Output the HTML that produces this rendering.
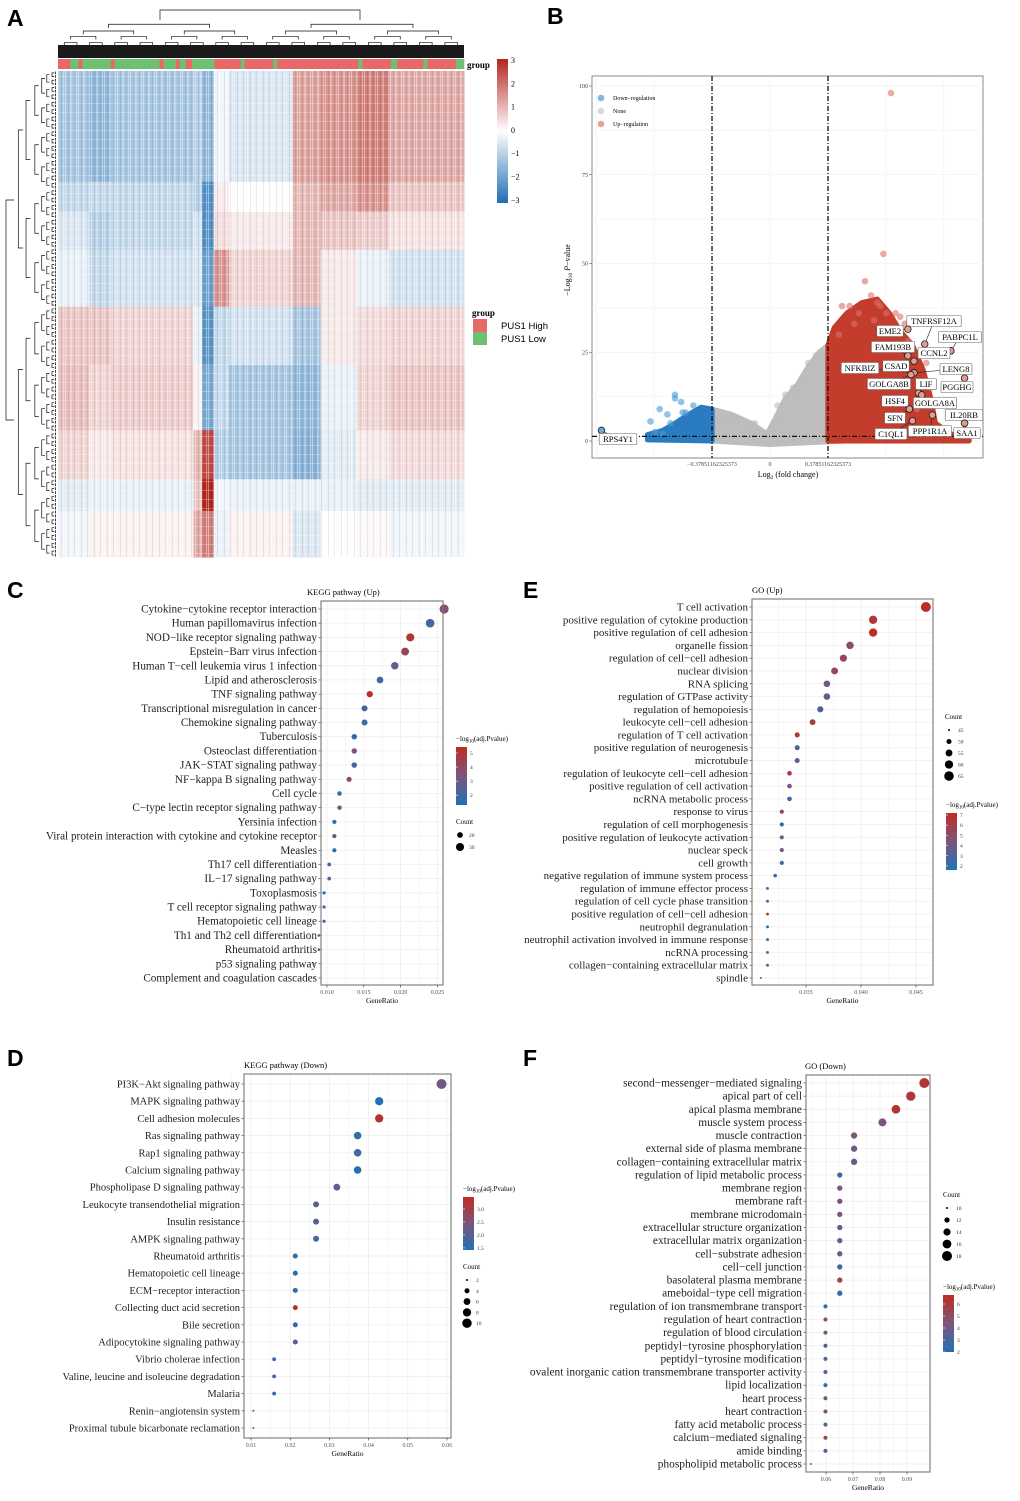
<!DOCTYPE html>
<html><head><meta charset="utf-8"><style>
html,body{margin:0;padding:0;background:#fff;}
svg{display:block;font-family:"Liberation Serif",serif;}
.pl{font-family:"Liberation Sans",sans-serif;font-weight:bold;font-size:23px;}
</style></head><body>
<svg id="fig" width="1020" height="1501" viewBox="0 0 1020 1501" xmlns="http://www.w3.org/2000/svg">
<defs>
<pattern id="tex" width="13" height="9" patternUnits="userSpaceOnUse">
<rect x="0" y="0" width="1" height="9" fill="#fff" opacity="0.4"/>
<rect x="3" y="0" width="1" height="9" fill="#000" opacity="0.08"/>
<rect x="5" y="0" width="2" height="9" fill="#fff" opacity="0.3"/>
<rect x="9" y="0" width="1" height="9" fill="#000" opacity="0.07"/>
<rect x="11" y="0" width="1" height="9" fill="#fff" opacity="0.35"/>
<rect x="0" y="4" width="13" height="1" fill="#fff" opacity="0.25"/>
</pattern>
<linearGradient id="cbar" x1="0" y1="1" x2="0" y2="0">
<stop offset="0" stop-color="#2171b5"/><stop offset="0.5" stop-color="#7d557d"/><stop offset="1" stop-color="#be2d23"/></linearGradient>
<linearGradient id="hbar" x1="0" y1="1" x2="0" y2="0">
<stop offset="0" stop-color="#1f6fb4"/><stop offset="0.5" stop-color="#ffffff"/><stop offset="1" stop-color="#b2261e"/></linearGradient>
</defs>
<text class="pl" x="7" y="26">A</text>
<text class="pl" x="547" y="24">B</text>
<text class="pl" x="7" y="598">C</text>
<text class="pl" x="523" y="598">E</text>
<text class="pl" x="7" y="1066">D</text>
<text class="pl" x="523" y="1066">F</text>
</svg>
<script>
const NS='http://www.w3.org/2000/svg';
const fig=document.getElementById('fig');
function mk(tag,attrs,parent){const e=document.createElementNS(NS,tag);for(const k in attrs)e.setAttribute(k,attrs[k]);(parent||fig).appendChild(e);return e;}
function tx(str,attrs,parent){const e=mk('text',attrs,parent);e.textContent=str;return e;}

/* ================= Panel A: heatmap ================= */
const hmColEdges=[0,0.076,0.131,0.333,0.355,0.384,0.421,0.578,0.647,0.736,0.815,1];
const hmRowEdges=[0,0.228,0.290,0.368,0.485,0.605,0.739,0.840,0.905,1];
const hmValues=[
[-1.2,-1.5,-1.2,-1.0,-1.5,-0.2,-0.5,1.3,1.5,1.8,1.2],
[-0.8,-0.8,-0.8,-1.0,-2.3,0.3,0.0,1.0,1.2,1.5,0.8],
[-0.5,-1.0,-0.8,-0.6,-2.3,0.5,0.3,1.0,0.8,0.7,0.4],
[-0.3,-0.8,-0.6,-0.5,-2.0,1.5,0.6,1.0,0.3,-0.3,-0.6],
[0.8,0.8,0.6,-0.3,-2.2,-0.8,-0.6,-1.2,0.3,0.5,0.6],
[0.9,0.6,0.7,0.2,-1.8,-0.8,-1.2,-1.5,-0.3,0.6,0.8],
[0.6,0.3,0.4,1.0,2.5,-1.0,-1.2,-1.6,-0.4,0.3,0.5],
[-0.4,-0.3,-0.3,0.8,3.0,-0.2,-0.3,-0.3,-0.3,-0.4,-0.4],
[-0.2,0.2,0.2,1.2,1.8,-0.3,0.2,-0.5,0.0,0.1,-0.2]];
const groupSegs=[[0,0.03,'H'],[0.03,0.05,'L'],[0.05,0.06,'H'],[0.06,0.13,'L'],[0.13,0.14,'H'],[0.14,0.25,'L'],[0.25,0.26,'H'],[0.26,0.29,'L'],[0.29,0.30,'H'],[0.30,0.315,'L'],[0.315,0.33,'H'],[0.33,0.385,'L'],[0.385,0.45,'H'],[0.45,0.46,'L'],[0.46,0.53,'H'],[0.53,0.54,'L'],[0.54,0.74,'H'],[0.74,0.75,'L'],[0.75,0.82,'H'],[0.82,0.835,'L'],[0.835,0.9,'H'],[0.9,0.91,'L'],[0.91,0.98,'H'],[0.98,1,'L']];
(function(){
 const X0=58,X1=464,Y0=71,Y1=557,W=X1-X0,H=Y1-Y0;
 function hcol(v){const t=Math.max(-1,Math.min(1,v/3));let a,b;
  if(t<0){a=[255,255,255];b=[31,111,180];}else{a=[255,255,255];b=[178,38,30];}
  const s=Math.abs(t);return `rgb(${Math.round(a[0]+(b[0]-a[0])*s)},${Math.round(a[1]+(b[1]-a[1])*s)},${Math.round(a[2]+(b[2]-a[2])*s)})`;}
 const g=mk('g',{});
 
 
 for(let r=0;r<hmValues.length;r++)for(let c=0;c<hmValues[r].length;c++){
  const x=X0+hmColEdges[c]*W,y=Y0+hmRowEdges[r]*H;
  const el=mk('rect',{x:x,y:y,width:(hmColEdges[c+1]-hmColEdges[c])*W+0.5,height:(hmRowEdges[r+1]-hmRowEdges[r])*H+0.5,fill:hcol(hmValues[r][c])},g);
  
  
 }
 const tex=mk('rect',{x:X0,y:Y0,width:W,height:H,fill:'url(#tex)'},g);
 
 
 const gb=mk('g',{});
 
 
 groupSegs.forEach(s=>{const el=mk('rect',{x:X0+s[0]*W,y:59,width:(s[1]-s[0])*W+0.3,height:10,fill:s[2]==='H'?'#e8686a':'#6cc070'},gb);
  
  });
 const gl=tx('group',{x:467,y:68,'font-size':9,'font-weight':'bold'});
 
 
 const dg=mk('g',{stroke:'#111','stroke-width':0.7,fill:'none'});
 
 
 function tree(a,b,top,depth,bottom,horiz,g){
  const m=(a+b)/2;if(depth===0){return;}
  const la=(a+m)/2,lb=(m+b)/2;
  const step=(bottom-top)/(depth+1);
  const ht=top+step*(0.6+0.4*((depth*7)%3)/2);
  const ch=Math.min(bottom-1,ht+step*0.9);
  if(!horiz){mk('path',{d:`M${la},${ch}V${ht}H${lb}V${ch}`},g);}
  else{mk('path',{d:`M${ch},${la}H${ht}V${lb}H${ch}`},g);}
  tree(a,m,ch,depth-1,bottom,horiz,g);tree(m,b,ch,depth-1,bottom,horiz,g);
 }
 mk('path',{d:'M160,20V10H360V20'},dg);
 tree(58,260,20,8,58,false,dg);tree(260,464,20,8,58,false,dg);
 const blk=mk('rect',{x:58,y:45,width:406,height:13,fill:'#1a1a1a',stroke:'none'},dg);
 
 
 const rg=mk('g',{stroke:'#111','stroke-width':0.7,fill:'none'});
 
 
 mk('path',{d:'M14,200H6V420H14'},rg);
 tree(71,307,14,7,57,true,rg);tree(307,557,14,7,57,true,rg);
 const cb=mk('rect',{x:497,y:59,width:11,height:144,fill:'url(#hbar)'});
 
 
 [3,2,1,0,-1,-2,-3].forEach(v=>{const t=tx(v<0?'−'+(-v):String(v),{x:511,y:61+(3-v)*23.3+2,'font-size':8});
  
  });
 const lt=tx('group',{x:472,y:316,'font-size':9,'font-weight':'bold'});
 
 
 [['PUS1 High','#e8686a',319],['PUS1 Low','#6cc070',332]].forEach(d=>{
  const r=mk('rect',{x:473,y:d[2],width:14,height:13,fill:d[1]});
  
  
  const t=tx(d[0],{x:501,y:d[2]+10,'font-size':9.5,'font-family':'Liberation Sans,sans-serif'});
  
  });
})();

/* ================= Panel B: volcano ================= */
const vGrayCloud=[[-0.38,0],[-0.38,9],[-0.25,7.5],[-0.12,5],[-0.02,2],[0.03,6],[0.1,12],[0.18,16],[0.25,21],[0.32,25],[0.38,27],[0.38,0],[0.5,0],[0,-1]];
const vRedCloud=[[0.378,0],[0.378,27],[0.42,32],[0.5,36],[0.6,39],[0.7,40],[0.78,36],[0.85,31],[0.93,27],[1.0,20],[1.05,12],[1.08,5],[1.2,1.5],[1.3,0.5],[1.3,0]];
const vBlueCloud=[[-0.378,0],[-0.378,9],[-0.45,9.5],[-0.55,7],[-0.62,5],[-0.7,3],[-0.8,1.8],[-0.8,0.3]];
const vUpX=[0.79,0.74,0.47,0.52,0.58,0.62,0.66,0.70,0.72,0.82,0.85,0.88,0.45,0.55,0.68,0.9,1.02,1.05,0.96,0.76];
const vUpY=[98,52.7,38,38,36,45,41,39,38,36,35,33,30,33,34,28,22,15,9,36];
const vDownX=[-0.62,-0.72,-0.78,-0.67,-0.65,-0.62,-0.58,-0.57,-0.75,-0.7,-0.5,-0.55];
const vDownY=[13,9,5.5,7.5,5,12,11,8,2.5,2,10,8];
const vGrayX=[-0.2,-0.1,0.05,0.1,0.15,0.2,0.25,0.3,-0.3];
const vGrayY=[6,5,10,13,15,17,22,24,7];
const vLabelNames=['TNFRSF12A','EME2','PABPC1L','CCNL2','FAM193B','NFKBIZ','CSAD','LENG8','GOLGA8B','LIF','PGGHG','HSF4','GOLGA8A','SFN','IL20RB','C1QL1','PPP1R1A','SAA1','RPS4Y1'];
const vLabelX=[1.01,0.90,1.18,1.18,0.90,0.94,0.94,0.94,0.92,0.97,1.27,0.91,0.99,0.91,1.27,0.93,1.06,1.27,-1.10];
const vLabelY=[27.3,31.5,25.4,25.4,24,19.2,22.5,19.2,18.7,13.5,17.7,9,13,9,5,5.7,7.3,5,3];
const vBoxes=[[934,321],[890,331],[960,337],[934,353],[893,347],[860,368],[896,366],[956,369],[889,384],[926,384],[957,387],[895,401],[935,403],[895,418],[964,415],[891,434],[930,431],[967,433],[618,439]];
(function(){
 const bx0=592,bx1=983,by0=76,by1=458;
 const X=v=>770+v*153.2, Y=v=>441-v*3.55;
 const frame=mk('rect',{x:bx0,y:by0,width:bx1-bx0,height:by1-by0,fill:'#fff',stroke:'#888','stroke-width':1});
 
 
 const grid=mk('g',{stroke:'#eeeeee','stroke-width':0.6});
 
 
 [0,12.5,25,37.5,50,62.5,75,87.5,100].forEach(v=>mk('line',{x1:bx0,x2:bx1,y1:Y(v),y2:Y(v)},grid));
 [-1.135,-0.757,-0.378,0,0.378,0.757,1.135].forEach(v=>mk('line',{x1:X(v),x2:X(v),y1:by0,y2:by1},grid));
 const poly=(pts,fill,name)=>{const p=mk('polygon',{points:pts.map(q=>X(q[0])+','+Y(q[1])).join(' '),fill:fill,stroke:fill,'stroke-width':5,'stroke-linejoin':'round'});
  
  };
 poly(vGrayCloud,'#bdbdbd','none-cloud');
 poly(vBlueCloud,'#2a7bbf','down-cloud');
 poly(vRedCloud,'#c43c2c','up-cloud');
 const pts=(xs,ys,fill,name)=>xs.forEach((x,i)=>{const c=mk('circle',{cx:X(x),cy:Y(ys[i]),r:3.3,fill:fill,opacity:0.6});
  
  });
 pts(vGrayX,vGrayY,'#bbbbbb','none-point');
 pts(vDownX,vDownY,'#4a9ad3','down-point');
 pts(vUpX,vUpY,'#d9736a','up-point');
 const th=mk('g',{stroke:'#111','stroke-width':1.3,'stroke-dasharray':'5,2,1,2',fill:'none'});
 
 
 mk('line',{x1:X(-0.3785),x2:X(-0.3785),y1:by0,y2:by1},th);
 mk('line',{x1:X(0.3785),x2:X(0.3785),y1:by0,y2:by1},th);
 mk('line',{x1:bx0,x2:bx1,y1:Y(1.3),y2:Y(1.3)},th);
 const lg=mk('g',{'font-size':9});
 vLabelNames.forEach((n,i)=>{
  const px=X(vLabelX[i]),py=Y(vLabelY[i]);const b=vBoxes[i];
  mk('line',{x1:px,y1:py,x2:b[0],y2:b[1],stroke:'#222','stroke-width':0.6},lg);
  const c=mk('circle',{cx:px,cy:py,r:3.3,fill:i===18?'#6aa8d8':'#e39a90',stroke:'#222','stroke-width':0.8},lg);
  
  
  const w=n.length*5.6+4;
  const r=mk('rect',{x:b[0]-w/2,y:b[1]-5.5,width:w,height:11,fill:'#fff',stroke:'#666','stroke-width':0.6,rx:1},lg);
  
  
  const t=tx(n,{x:b[0],y:b[1]+3.2,'text-anchor':'middle','font-size':8.5},lg);
  
  });
 [0,25,50,75,100].forEach(v=>{const t=tx(String(v),{x:588,y:Y(v)+2,'text-anchor':'end','font-size':6,fill:'#444'});
  
  
  mk('line',{x1:589,x2:592,y1:Y(v),y2:Y(v),stroke:'#444','stroke-width':0.5});});
 [[-0.3785,'−0.37851162325373'],[0,'0'],[0.3785,'0.37851162325373']].forEach(d=>{
  const t=tx(d[1],{x:X(d[0]),y:466,'text-anchor':'middle','font-size':6,fill:'#444'});
  
  });
 const xt=tx('',{x:788,y:477,'text-anchor':'middle','font-size':8});
 xt.innerHTML='Log<tspan font-size="5.5" dy="2">2</tspan><tspan dy="-2"> (fold change)</tspan>';
 
 
 const yt=tx('',{transform:'translate(570,270) rotate(-90)','text-anchor':'middle','font-size':8});
 yt.innerHTML='−Log<tspan font-size="5.5" dy="2">10</tspan><tspan dy="-2"> </tspan><tspan font-style="italic">P</tspan>−value';
 
 
 [['Down−regulation','#7fb8de',98],['None','#d8d8d8',111],['Up−regulation','#e6a39b',124]].forEach(d=>{
  const c=mk('circle',{cx:601,cy:d[2],r:3.3,fill:d[1]});
  
  
  const t=tx(d[0],{x:613,y:d[2]+2,'font-size':6});
  
  });
})();

/* ================= Dot plots ================= */
function pcol(p,pmin,pmax){const t=Math.max(0,Math.min(1,(p-pmin)/(pmax-pmin)));
 const A=[33,113,181],M=[125,85,125],B=[190,45,35];let a,b,s;
 if(t<0.5){a=A;b=M;s=t/0.5;}else{a=M;b=B;s=(t-0.5)/0.5;}
 return `rgb(${Math.round(a[0]+(b[0]-a[0])*s)},${Math.round(a[1]+(b[1]-a[1])*s)},${Math.round(a[2]+(b[2]-a[2])*s)})`;}
function dotPlot(cfg,cats,ratios,counts,pvals,name){
 const g=mk('g',{});
 
 
 const X=v=>cfg.p0+(v-cfg.v0)/(cfg.v1-cfg.v0)*(cfg.p1-cfg.p0);
 const n=cats.length,step=(cfg.rl-cfg.rf)/(n-1),Y=i=>cfg.rf+i*step;
 const R=c=>Math.sqrt(cfg.rmin*cfg.rmin+Math.max(0,(c-cfg.cmin)/(cfg.cmax-cfg.cmin))*(cfg.rmax*cfg.rmax-cfg.rmin*cfg.rmin));
 const fr=mk('rect',{x:cfg.x0,y:cfg.y0,width:cfg.x1-cfg.x0,height:cfg.y1-cfg.y0,fill:'#fff'},g);
 
 
 const gr=mk('g',{stroke:'#ececec','stroke-width':0.7},g);
 cfg.ticks.forEach((t,i)=>{mk('line',{x1:X(t),x2:X(t),y1:cfg.y0,y2:cfg.y1},gr);
  if(i<cfg.ticks.length-1)mk('line',{x1:X((t+cfg.ticks[i+1])/2),x2:X((t+cfg.ticks[i+1])/2),y1:cfg.y0,y2:cfg.y1,'stroke-width':0.4},gr);});
 mk('line',{x1:X(cfg.ticks[0]-(cfg.ticks[1]-cfg.ticks[0])/2),x2:X(cfg.ticks[0]-(cfg.ticks[1]-cfg.ticks[0])/2),y1:cfg.y0,y2:cfg.y1,'stroke-width':0.4},gr);
 cats.forEach((c,i)=>{mk('line',{x1:cfg.x0,x2:cfg.x1,y1:Y(i),y2:Y(i)},gr);
  const t=tx(c,{x:cfg.x0-4,y:Y(i)+3.5,'text-anchor':'end','font-size':cfg.fs,fill:'#222'},g);
  
  
  mk('line',{x1:cfg.x0-2.5,x2:cfg.x0,y1:Y(i),y2:Y(i),stroke:'#333','stroke-width':0.6},g);});
 cats.forEach((c,i)=>{const d=mk('circle',{cx:X(ratios[i]),cy:Y(i),r:R(counts[i]),fill:pcol(pvals[i],cfg.pmin,cfg.pmax)},g);
  
  });
 const bd=mk('rect',{x:cfg.x0,y:cfg.y0,width:cfg.x1-cfg.x0,height:cfg.y1-cfg.y0,fill:'none',stroke:'#777','stroke-width':1.1},g);
 
 
 cfg.ticks.forEach((t,i)=>{mk('line',{x1:X(t),x2:X(t),y1:cfg.y1,y2:cfg.y1+2.5,stroke:'#333','stroke-width':0.6},g);
  const l=tx(cfg.tickLabels[i],{x:X(t),y:cfg.y1+9,'text-anchor':'middle','font-size':6,fill:'#555'},g);
  
  });
 const xt=tx('GeneRatio',{x:(cfg.x0+cfg.x1)/2,y:cfg.y1+18,'text-anchor':'middle','font-size':7.5},g);
 
 
 const tt=tx(cfg.title,{x:cfg.tx,y:cfg.y0-6,'font-size':8.5},g);
 
 
 const ct=tx('',{x:cfg.cbx,y:cfg.cby-6,'font-size':7},g);
 ct.innerHTML='−log<tspan font-size="5" dy="1.5">10</tspan><tspan dy="-1.5">(adj.Pvalue)</tspan>';
 
 
 const cb=mk('rect',{x:cfg.cbx,y:cfg.cby,width:11,height:cfg.cbh,fill:'url(#cbar)'},g);
 
 
 cfg.pTicks.forEach(p=>{const y=cfg.cby+cfg.cbh*(cfg.pmax-p)/(cfg.pmax-cfg.pmin);
  mk('line',{x1:cfg.cbx,x2:cfg.cbx+2,y1:y,y2:y,stroke:'#fff','stroke-width':0.6},g);
  const l=tx(cfg.pFmt?p.toFixed(1):String(p),{x:cfg.cbx+14,y:y+2,'font-size':5.5,fill:'#333'},g);
  
  });
 const st=tx('Count',{x:cfg.sx,y:cfg.sy-6,'font-size':7},g);
 
 
 cfg.sizeVals.forEach((c,i)=>{const y=cfg.sy+5+i*cfg.sstep;
  const d=mk('circle',{cx:cfg.sx+4,cy:y,r:R(c),fill:'#000'},g);
  
  
  const l=tx(String(c),{x:cfg.sx+13,y:y+2,'font-size':5.5,fill:'#333'},g);
  
  });
}

/* ---- C: KEGG Up ---- */
const keggUpCats=['Cytokine−cytokine receptor interaction','Human papillomavirus infection','NOD−like receptor signaling pathway','Epstein−Barr virus infection','Human T−cell leukemia virus 1 infection','Lipid and atherosclerosis','TNF signaling pathway','Transcriptional misregulation in cancer','Chemokine signaling pathway','Tuberculosis','Osteoclast differentiation','JAK−STAT signaling pathway','NF−kappa B signaling pathway','Cell cycle','C−type lectin receptor signaling pathway','Yersinia infection','Viral protein interaction with cytokine and cytokine receptor','Measles','Th17 cell differentiation','IL−17 signaling pathway','Toxoplasmosis','T cell receptor signaling pathway','Hematopoietic cell lineage','Th1 and Th2 cell differentiation','Rheumatoid arthritis','p53 signaling pathway','Complement and coagulation cascades'];
const keggUpRatio=[0.0259,0.0240,0.0213,0.0206,0.0192,0.0172,0.0158,0.0151,0.0151,0.0137,0.0137,0.0137,0.0130,0.0117,0.0117,0.0110,0.0110,0.0110,0.0103,0.0103,0.0096,0.0096,0.0096,0.0089,0.0089,0.0082,0.0082];
const keggUpCount=[36,33,30,29,27,24,22,21,21,19,19,19,18,16,16,15,15,15,14,14,13,13,13,12,12,11,11];
const keggUpP=[3.5,2.0,5.0,4.3,3.0,2.0,5.3,2.0,2.0,1.5,3.5,2.0,4.2,2.0,3.3,1.5,3.0,1.5,2.2,3.0,1.6,1.8,2.0,2.0,2.0,2.0,2.0];
dotPlot({x0:321,x1:443,y0:601,y1:985,rf:609,rl:978,v0:0.010,v1:0.025,p0:327,p1:437.5,ticks:[0.010,0.015,0.020,0.025],tickLabels:['0.010','0.015','0.020','0.025'],
 fs:11.2,title:'KEGG pathway (Up)',tx:307,rmin:1,rmax:4.6,cmin:11,cmax:36,pmin:1.3,pmax:5.43,pTicks:[2,3,4,5],cbx:456,cby:747,cbh:58,sx:456,sy:830,sstep:12,sizeVals:[20,30]},
 keggUpCats,keggUpRatio,keggUpCount,keggUpP,'kegg-up-dotplot');

/* ---- E: GO Up ---- */
const goUpCats=['T cell activation','positive regulation of cytokine production','positive regulation of cell adhesion','organelle fission','regulation of cell−cell adhesion','nuclear division','RNA splicing','regulation of GTPase activity','regulation of hemopoiesis','leukocyte cell−cell adhesion','regulation of T cell activation','positive regulation of neurogenesis','microtubule','regulation of leukocyte cell−cell adhesion','positive regulation of cell activation','ncRNA metabolic process','response to virus','regulation of cell morphogenesis','positive regulation of leukocyte activation','nuclear speck','cell growth','negative regulation of immune system process','regulation of immune effector process','regulation of cell cycle phase transition','positive regulation of cell−cell adhesion','neutrophil degranulation','neutrophil activation involved in immune response','ncRNA processing','collagen−containing extracellular matrix','spindle'];
const goUpRatio=[0.0459,0.0411,0.0411,0.0390,0.0384,0.0376,0.0369,0.0369,0.0363,0.0356,0.0342,0.0342,0.0342,0.0335,0.0335,0.0335,0.0328,0.0328,0.0328,0.0328,0.0328,0.0322,0.0315,0.0315,0.0315,0.0315,0.0315,0.0315,0.0315,0.0309];
const goUpCount=[67,60,60,57,56,55,54,54,53,52,50,50,50,49,49,49,48,48,48,48,48,47,46,46,46,46,46,46,46,45];
const goUpP=[7,6.5,7,5,5.5,5.5,4,4,3,6,6.5,2.5,3.8,6.3,4,2.3,6,2,4,4,2.3,2.3,1.8,1.8,7,1.8,1.8,3.5,2.5,3.5];
dotPlot({x0:752,x1:933,y0:599,y1:985,rf:607,rl:978,v0:0.035,v1:0.045,p0:806,p1:916,ticks:[0.035,0.040,0.045],tickLabels:['0.035','0.040','0.045'],
 fs:11,title:'GO (Up)',tx:752,rmin:1,rmax:5,cmin:45,cmax:67,pmin:1.6,pmax:7.2,pTicks:[2,3,4,5,6,7],cbx:946,cby:813,cbh:57,sx:945,sy:725,sstep:11.5,sizeVals:[45,50,55,60,65]},
 goUpCats,goUpRatio,goUpCount,goUpP,'go-up-dotplot');

/* ---- D: KEGG Down ---- */
const keggDnCats=['PI3K−Akt signaling pathway','MAPK signaling pathway','Cell adhesion molecules','Ras signaling pathway','Rap1 signaling pathway','Calcium signaling pathway','Phospholipase D signaling pathway','Leukocyte transendothelial migration','Insulin resistance','AMPK signaling pathway','Rheumatoid arthritis','Hematopoietic cell lineage','ECM−receptor interaction','Collecting duct acid secretion','Bile secretion','Adipocytokine signaling pathway','Vibrio cholerae infection','Valine, leucine and isoleucine degradation','Malaria','Renin−angiotensin system','Proximal tubule bicarbonate reclamation'];
const keggDnRatio=[0.0586,0.0427,0.0427,0.0372,0.0372,0.0372,0.0319,0.0266,0.0266,0.0266,0.0213,0.0213,0.0213,0.0213,0.0213,0.0213,0.0159,0.0159,0.0159,0.0106,0.0106];
const keggDnCount=[11,8,8,7,7,7,6,5,5,5,4,4,4,4,4,4,3,3,3,2,2];
const keggDnP=[2.3,1.5,3.3,1.6,1.8,1.5,2.1,2.0,2.0,1.8,1.6,1.5,1.6,3.3,1.6,2.0,1.7,1.7,1.7,1.5,1.5];
dotPlot({x0:244,x1:451,y0:1074,y1:1438,rf:1084,rl:1428,v0:0.01,v1:0.06,p0:251,p1:447,ticks:[0.01,0.02,0.03,0.04,0.05,0.06],tickLabels:['0.01','0.02','0.03','0.04','0.05','0.06'],
 fs:10.5,title:'KEGG pathway (Down)',tx:244,rmin:1,rmax:5,cmin:2,cmax:11,pmin:1.42,pmax:3.46,pTicks:[1.5,2.0,2.5,3.0],pFmt:true,cbx:463,cby:1197,cbh:53,sx:463,sy:1275,sstep:10.8,sizeVals:[2,4,6,8,10]},
 keggDnCats,keggDnRatio,keggDnCount,keggDnP,'kegg-down-dotplot');

/* ---- F: GO Down ---- */
const goDnCats=['second−messenger−mediated signaling','apical part of cell','apical plasma membrane','muscle system process','muscle contraction','external side of plasma membrane','collagen−containing extracellular matrix','regulation of lipid metabolic process','membrane region','membrane raft','membrane microdomain','extracellular structure organization','extracellular matrix organization','cell−substrate adhesion','cell−cell junction','basolateral plasma membrane','ameboidal−type cell migration','regulation of ion transmembrane transport','regulation of heart contraction','regulation of blood circulation','peptidyl−tyrosine phosphorylation','peptidyl−tyrosine modification','ovalent inorganic cation transmembrane transporter activity','lipid localization','heart process','heart contraction','fatty acid metabolic process','calcium−mediated signaling','amide binding','phospholipid metabolic process'];
const goDnRatio=[0.0964,0.0914,0.0859,0.0809,0.0704,0.0704,0.0704,0.0651,0.0651,0.0651,0.0651,0.0651,0.0651,0.0651,0.0651,0.0651,0.0651,0.0598,0.0598,0.0598,0.0598,0.0598,0.0598,0.0598,0.0598,0.0598,0.0598,0.0598,0.0598,0.0544];
const goDnCount=[18,17,16,15,13,13,13,12,12,12,12,12,12,12,12,12,12,11,11,11,11,11,11,11,11,11,11,11,11,10];
const goDnP=[6.3,6,6.3,4.5,4.5,4,4,3,4.3,4.5,4.5,4,3.8,4,2.8,5.5,2.5,2,4.8,4.5,3.3,3.3,3,2.5,4.5,4.5,3.5,5,3,2];
dotPlot({x0:806,x1:930,y0:1075,y1:1472,rf:1083,rl:1464,v0:0.06,v1:0.09,p0:826,p1:907,ticks:[0.06,0.07,0.08,0.09],tickLabels:['0.06','0.07','0.08','0.09'],
 fs:11.4,title:'GO (Down)',tx:805,rmin:1,rmax:5,cmin:10,cmax:18,pmin:2,pmax:6.75,pTicks:[2,3,4,5,6],cbx:943,cby:1295,cbh:57,sx:943,sy:1203,sstep:12,sizeVals:[10,12,14,16,18]},
 goDnCats,goDnRatio,goDnCount,goDnP,'go-down-dotplot');
</script>
</body></html>
